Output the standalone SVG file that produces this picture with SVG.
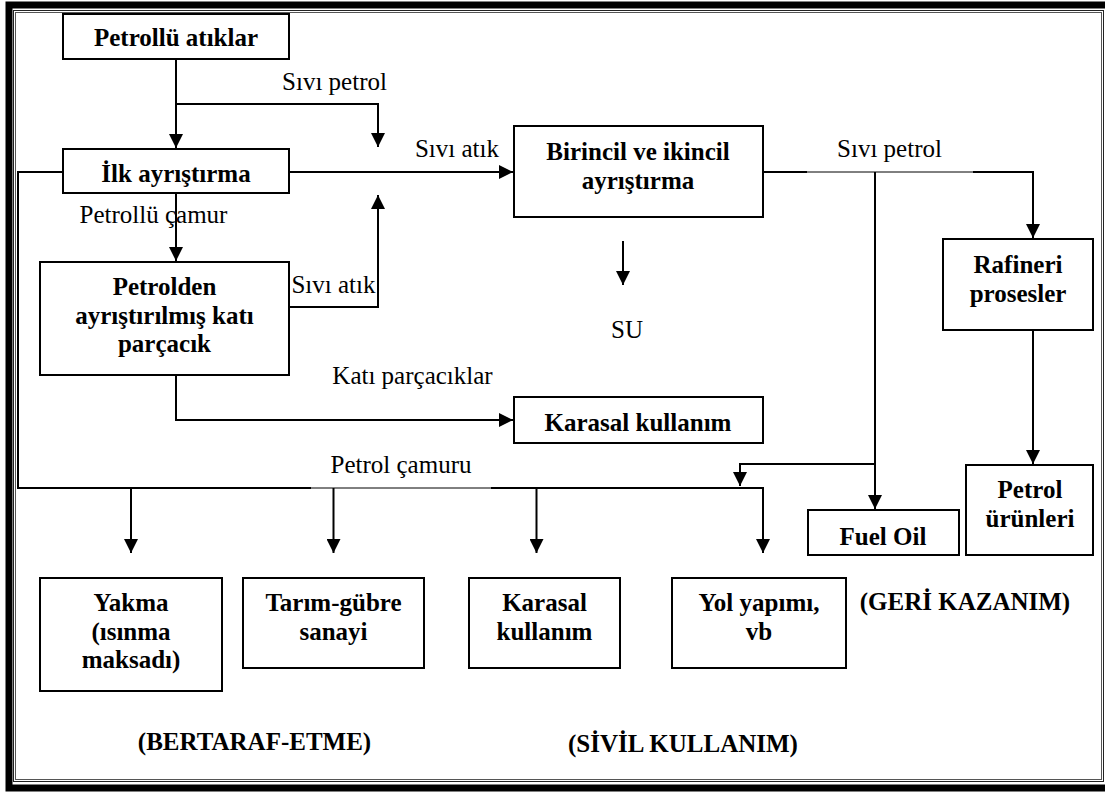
<svg xmlns="http://www.w3.org/2000/svg" width="1105" height="792" viewBox="0 0 1105 792">
  <style>
    .box { fill: #fff; stroke: #000; stroke-width: 2; }
    .ln { fill: none; stroke: #000; stroke-width: 2; }
    .thin { fill: none; stroke: #000; stroke-width: 1; }
    .arr { marker-end: url(#head); }
    text { font-family: "Liberation Serif", "Times New Roman", serif; font-size: 25px; fill: #000; text-anchor: middle; }
    .b { font-weight: bold; }
  </style>
  <defs>
    <marker id="head" markerUnits="userSpaceOnUse" markerWidth="15" markerHeight="14" refX="14" refY="7" orient="auto">
      <path d="M0,0 L14,7 L0,14 z" fill="#000"/>
    </marker>
  </defs>

  <rect width="1105" height="792" fill="#fff"/>

  <!-- page frame: thick outer band with a double hairline inside -->
  <g id="frame" fill="none">
    <rect x="9" y="5" width="1105" height="783" stroke="#000" stroke-width="7"/>
    <rect x="13.5" y="10.5" width="1090" height="771" stroke="#222" stroke-width="1"/>
    <rect x="15.5" y="12.5" width="1086" height="767" stroke="#555" stroke-width="1"/>
  </g>

  <!-- connectors -->
  <g id="connectors">
    <path class="ln arr" d="M176,59 V148"/>
    <path class="ln arr" d="M176,104 H378 V147"/>
    <path class="ln arr" d="M289,172 H513"/>
    <path class="ln arr" d="M289,307 H378 V195"/>
    <path class="ln arr" d="M176,193 V261"/>
    <path class="ln arr" d="M176,375 V420 H513"/>
    <path class="ln arr" d="M623,241 V285"/>
    <!-- sludge line round the left and along the bottom -->
    <path class="ln" d="M63,172 H18 V488 H311"/>
    <path class="thin" d="M311,488 H492"/>
    <path class="ln arr" d="M491,488 H763 V553"/>
    <path class="ln arr" d="M131,488 V553"/>
    <path class="ln arr" d="M333.5,488 V553"/>
    <path class="ln arr" d="M536.5,488 V553"/>
    <!-- liquid oil line to the right -->
    <path class="ln" d="M763,172 H807"/>
    <path class="thin" d="M806,172 H974"/>
    <path class="ln arr" d="M973,172 H1033 V238"/>
    <path class="ln arr" d="M875,172 V509"/>
    <path class="ln arr" d="M875,464 H740 V486"/>
    <path class="ln arr" d="M1033,330 V464"/>
  </g>

  <!-- edge labels -->
  <g id="edge-labels">
    <text x="334.5" y="90">Sıvı petrol</text>
    <text x="457" y="157">Sıvı atık</text>
    <text x="153.5" y="223">Petrollü çamur</text>
    <text x="333.5" y="293">Sıvı atık</text>
    <text x="627" y="338">SU</text>
    <text x="412.5" y="384">Katı parçacıklar</text>
    <text x="401" y="473">Petrol çamuru</text>
    <text x="889.5" y="157">Sıvı petrol</text>
  </g>

  <g id="n-petrollu-atiklar">
    <rect class="box" x="63" y="14" width="226" height="45"/>
    <text class="b" x="176" y="46">Petrollü atıklar</text>
  </g>
  <g id="n-ilk-ayristirma">
    <rect class="box" x="63" y="149" width="226" height="44"/>
    <text class="b" x="176" y="182">İlk ayrıştırma</text>
  </g>
  <g id="n-birincil">
    <rect class="box" x="514" y="126" width="249" height="91"/>
    <text class="b" x="638" y="160">Birincil ve ikincil</text>
    <text class="b" x="638" y="189">ayrıştırma</text>
  </g>
  <g id="n-petrolden">
    <rect class="box" x="40" y="262" width="249" height="113"/>
    <text class="b" x="164.5" y="295">Petrolden</text>
    <text class="b" x="164.5" y="324">ayrıştırılmış katı</text>
    <text class="b" x="164.5" y="352">parçacık</text>
  </g>
  <g id="n-karasal-kullanim-1">
    <rect class="box" x="514" y="397" width="249" height="46"/>
    <text class="b" x="638" y="431">Karasal kullanım</text>
  </g>
  <g id="n-rafineri">
    <rect class="box" x="943" y="239" width="150" height="91"/>
    <text class="b" x="1018" y="273">Rafineri</text>
    <text class="b" x="1018" y="302">prosesler</text>
  </g>
  <g id="n-petrol-urunleri">
    <rect class="box" x="966" y="465" width="127" height="90"/>
    <text class="b" x="1030" y="498">Petrol</text>
    <text class="b" x="1030" y="527">ürünleri</text>
  </g>
  <g id="n-fuel-oil">
    <rect class="box" x="808" y="510" width="151" height="45"/>
    <text class="b" x="883" y="545">Fuel Oil</text>
  </g>
  <g id="n-yakma">
    <rect class="box" x="40" y="578" width="182" height="113"/>
    <text class="b" x="131" y="611">Yakma</text>
    <text class="b" x="131" y="639.5">(ısınma</text>
    <text class="b" x="131" y="668">maksadı)</text>
  </g>
  <g id="n-tarim">
    <rect class="box" x="243" y="578" width="181" height="90"/>
    <text class="b" x="333.5" y="611">Tarım-gübre</text>
    <text class="b" x="333.5" y="640">sanayi</text>
  </g>
  <g id="n-karasal-kullanim-2">
    <rect class="box" x="469" y="578" width="151" height="90"/>
    <text class="b" x="544.5" y="611">Karasal</text>
    <text class="b" x="544.5" y="640">kullanım</text>
  </g>
  <g id="n-yol-yapimi">
    <rect class="box" x="672" y="578" width="174" height="90"/>
    <text class="b" x="759" y="611">Yol yapımı,</text>
    <text class="b" x="759" y="640">vb</text>
  </g>

  <!-- group captions -->
  <g id="captions">
    <text class="b" x="254.5" y="750">(BERTARAF-ETME)</text>
    <text class="b" x="683" y="752">(SİVİL KULLANIM)</text>
    <text class="b" x="965" y="610">(GERİ KAZANIM)</text>
  </g>
</svg>
